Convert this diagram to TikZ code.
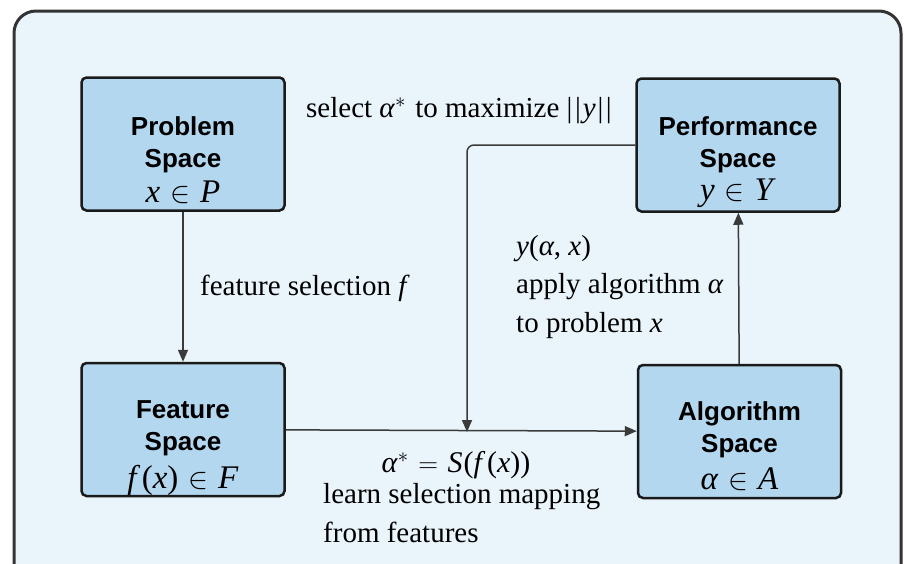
\documentclass[tikz,border=0pt]{standalone}
\usepackage{fontspec}
\usepackage{graphicx}
\setmainfont{Liberation Serif}
\setsansfont{Liberation Sans}
\usetikzlibrary{arrows.meta}
\definecolor{outerfill}{RGB}{234,244,251}
\definecolor{outerline}{RGB}{51,51,51}
\definecolor{boxfill}{RGB}{179,215,239}
\definecolor{boxline}{RGB}{26,26,26}
\definecolor{arrowcol}{RGB}{58,58,58}
\tikzset{
  spacebox/.style={draw=boxline, line width=2.5pt, fill=boxfill, rounded corners=5pt,
    minimum width=203pt, minimum height=133pt, inner sep=0pt},
  boxtext/.style={align=center, anchor=base, inner sep=0pt,
    font=\fontsize{26}{32}\selectfont\sffamily\bfseries},
  lbl/.style={inner sep=0pt, font=\fontsize{29}{38.5}\selectfont},
  arr/.style={draw=arrowcol, line width=1.5pt, -{Triangle[length=12pt,width=10pt]}},
}
\newcommand{\iv}[1]{\textit{#1}}
\newcommand{\relin}{\hspace{0.3em}\scalebox{1.2}{$\in$}\hspace{0.3em}}
\newcommand{\releq}{\hspace{0.32em}\scalebox{1.1}{$=$}\hspace{0.32em}}
\newcommand{\mth}[1]{{\fontsize{33}{32}\selectfont\rmfamily\mdseries #1}}
\newcommand{\nrm}[1]{|\kern2.5pt|\kern2pt#1\kern2pt|\kern2.5pt|}
\begin{document}
\begin{tikzpicture}[x=1pt,y=-1pt]
\useasboundingbox (0,0) rectangle (904,563);
\clip (0,0) rectangle (904,563);
\draw[draw=outerline, fill=outerfill, line width=3pt, rounded corners=22pt] (14,11) rectangle (901,640);

\node[spacebox] (prob) at (183,144) {};
\node[spacebox] (perf) at (738,145) {};
\node[spacebox] (feat) at (183,429.5) {};
\node[spacebox] (alg)  at (739.5,431.5) {};

\node[boxtext] (probt) at ([yshift=-58pt]prob.center) {Problem\\Space\\[3pt]\mth{\iv{x}\relin\iv{P}}};
\node[boxtext] (perft) at ([yshift=-55pt]perf.center) {Performance\\Space\\[1pt]\mth{\iv{y}\relin\iv{Y}}};
\node[boxtext] (featt) at ([yshift=-58.5pt]feat.center) {Feature\\Space\\[6pt]\mth{\iv{f}\kern1.5pt(\iv{x})\relin\iv{F}}};
\node[boxtext] (algt)  at ([yshift=-57.5pt]alg.center) {Algorithm\\Space\\[5pt]\mth{\iv{α}\relin\iv{A}}};

\coordinate (join) at (467,432);
\draw[arr] (prob) -- (feat);
\draw[arr] (feat) -- (alg);
\draw[arr] (alg) -- (perf);
\draw[arr, rounded corners=7pt] (perf.west) -| (join);

\node[lbl, anchor=base west] (fsel) at (200,295) {feature selection \iv{f}};
\node[lbl, anchor=base west] (sel) at (306,117) {select \iv{α}$^{*}$\kern2pt{} to maximize \nrm{\iv{y}}};
\node[lbl, anchor=base west, align=left] (apply) at (516,332) {\iv{y}(\iv{α}, \iv{x})\\apply algorithm \iv{α}\\to problem \iv{x}};
\node[lbl, anchor=base, font=\fontsize{30}{38}\selectfont] (smap) at (456,472) {\iv{α}$^{*}$\releq\iv{S}\kern1pt(\iv{f}\kern1.5pt(\iv{x}))};
\node[lbl, anchor=base west, align=left] (learn) at (323,542) {learn selection mapping\\from features};
\end{tikzpicture}
\end{document}
